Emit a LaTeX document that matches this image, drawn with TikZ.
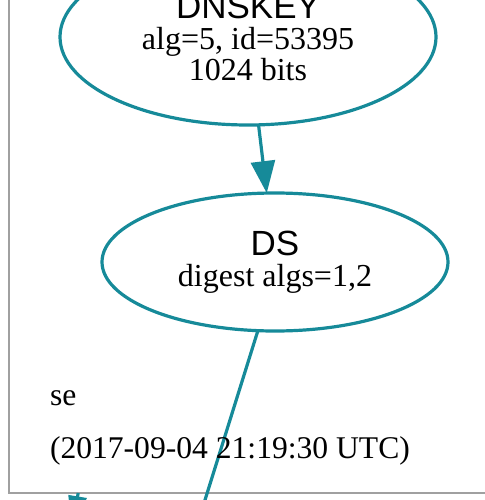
\documentclass[tikz,border=0pt]{standalone}
\usepackage{fontspec}
\setmainfont{Liberation Serif}
\newfontfamily\hsans{Liberation Sans}
\usetikzlibrary{shapes.geometric,arrows.meta}
\definecolor{tealc}{RGB}{22,138,153}
\definecolor{framec}{RGB}{160,160,160}
\begin{document}
\begin{tikzpicture}[x=1pt,y=-1pt,
  every node/.style={inner sep=0pt,outer sep=0pt},
  keynode/.style={ellipse, draw=tealc, line width=3.2pt, align=center,
    font=\fontsize{32}{31}\selectfont},
  edgeline/.style={draw=tealc, line width=3.2pt},
  edgearrow/.style={edgeline, -{Triangle[length=32pt,width=24pt]}},
  plain/.style={anchor=base west, font=\fontsize{31.6}{36}\selectfont}]
\useasboundingbox (0,0) rectangle (484,500);
\draw[framec, line width=2.2pt] (9,-20) -- (9,493) -- (520,493);
\node[keynode, minimum width=376pt, minimum height=176pt] (dnskey) at (248,37)
  {{\hsans\fontsize{35}{31}\selectfont DNSKEY}\\alg=5, id=53395\\1024 bits};
\node[keynode, minimum width=346pt, minimum height=138pt] (ds) at (275,262)
  {{\hsans\fontsize{35}{32}\selectfont DS}\\digest algs=1,2};
\draw[edgearrow] (dnskey) -- (ds);
\coordinate (dsend) at (200,516);
\draw[edgeline] (ds.256) -- (dsend);
\node[plain] (zone) at (50,405) {se};
\node[plain] (stamp) at (50,458) {(2017-09-04 21:19:30 UTC)};
\coordinate (bstart) at (78,494);
\coordinate (bend) at (72,530);
\draw[edgeline, -{Triangle[length=34pt,width=18pt]}, shorten <=-1pt] (bstart) -- (bend);
\end{tikzpicture}
\end{document}
